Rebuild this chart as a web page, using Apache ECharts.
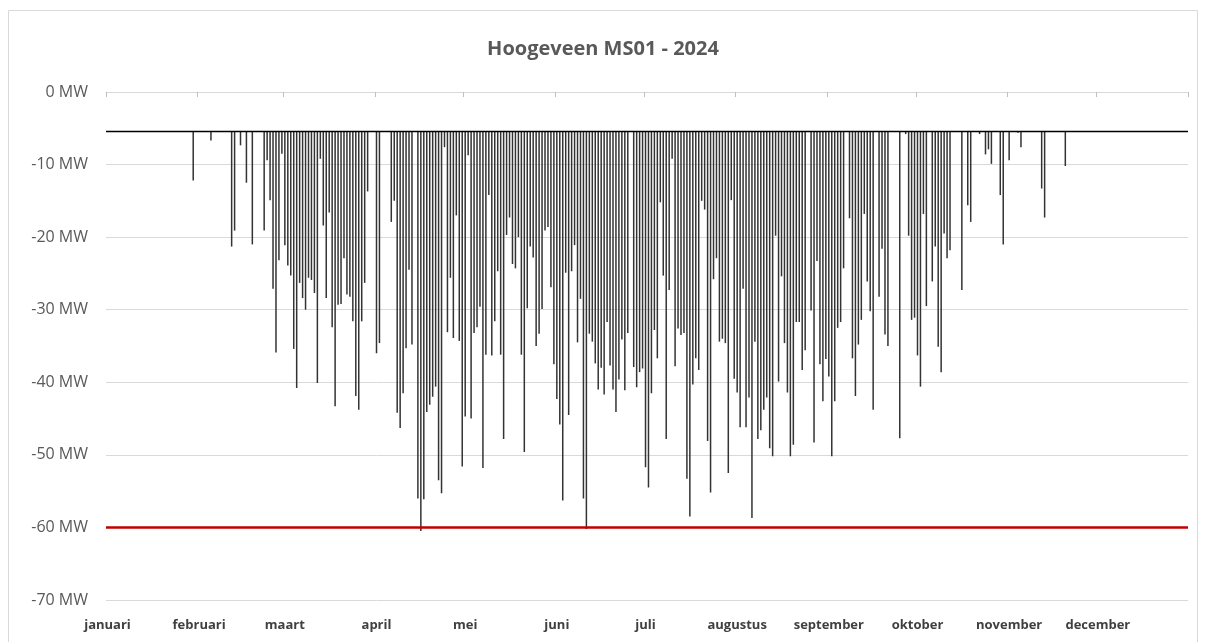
<!DOCTYPE html>
<html>
<head>
<meta charset="utf-8">
<script src="https://cdn.jsdelivr.net/npm/echarts@6/dist/echarts.min.js"></script>
<style>
html,body{margin:0;padding:0;background:#fff;}
#c{width:1206px;height:642px;}
</style>
</head>
<body>
<div id="c"></div>
<script>
// Daily minimum power per month (MW), null = no value below baseline
const monthNames = ['januari','februari','maart','april','mei','juni','juli','augustus','september','oktober','november','december'];
const jan = [null,null,null,null,null,null,null,null,null,null,null,null,null,null,null,null,null,null,null,null,null,null,null,null,null,null,null,null,null,-12.2,null];
const feb = [null,null,null,null,-6.7,null,null,null,null,null,null,-21.3,-19.1,null,-7.35,null,-12.5,null,-21.0,null,null,null,-19.1,-9.4,-14.9,-27.1,-35.9,-23.2,-8.5];
const mar = [-21.1,-23.9,-25.3,-35.4,-40.8,-26.3,-28.4,-30.0,-25.6,-25.9,-27.7,-40.1,-9.2,-18.4,-28.4,-16.6,-32.4,-43.3,-29.3,-29.2,-22.9,-27.9,-28.2,-31.6,-41.9,-43.8,-31.6,-26.3,-13.7,null,null];
const apr = [-36.0,-34.6,null,null,null,-17.9,-15.0,-44.2,-46.3,-41.5,-35.3,-24.5,-34.8,null,-56.0,-60.5,-56.1,-44.1,-43.1,-42.0,-40.6,-53.5,-55.3,-7.6,-33.1,-25.6,-33.9,-17.0,-34.3,-51.6];
const mei = [-44.7,-8.7,-45.0,-33.2,-32.4,-29.6,-51.8,-36.2,-14.2,-36.3,-31.6,-24.7,-36.2,-47.8,-19.7,-17.3,-23.7,-24.3,-20.0,-36.2,-49.6,-29.8,-21.3,-22.8,-35.0,-33.3,-29.9,-19.1,-18.6,-26.9,-37.5];
const jun = [-42.3,-45.8,-56.3,-24.9,-44.5,-24.7,-21.1,-34.5,-28.5,-56.0,-60.2,-33.3,-34.4,-37.4,-41.0,-38.0,-41.7,-31.7,-37.7,-41.0,-44.1,-39.6,-34.1,-41.1,-33.2,null,-37.9,-40.7,-38.6,-38.1];
const jul = [-51.7,-54.5,-41.5,-32.8,-36.7,-15.2,-25.3,-47.8,-27.3,-9.2,-37.8,-32.6,-33.5,-33.2,-53.3,-58.5,-40.3,-36.7,-38.3,-15.0,-16.2,-48.1,-55.2,-25.8,-22.9,-34.4,-34.0,-34.6,-52.5,-14.9,-39.5];
const aug = [-41.4,-46.2,-27.1,-46.2,-42.1,-58.7,-34.4,-47.8,-46.6,-43.8,-42.1,-49.1,-50.2,-19.8,-39.9,-25.4,-34.6,-41.4,-50.2,-48.6,-31.7,-31.7,-38.3,-35.6,null,-30.1,-48.3,-23.3,-37.5,-42.6,-36.8];
const sep = [-39.2,-50.2,-42.6,-32.5,-31.7,-24.3,null,-17.4,-36.7,-41.9,-34.8,-31.4,-16.8,-26.1,-30.2,-43.8,null,-28.2,-21.6,-33.4,-35.0,null,null,null,-47.7,null,-5.8,-19.8,-31.4,-31.1];
const okt = [-36.3,-40.6,-16.8,-29.5,null,-26.1,-21.3,-35.1,-38.6,-19.5,-22.9,-21.8,null,null,null,-27.3,null,-15.6,-17.9,null,null,-5.8,null,-8.6,-7.9,-9.9,null,null,-14.2,-21.0,null];
const nov = [-9.4,null,null,-5.6,-7.6,null,null,null,null,null,null,-13.3,-17.3,null,null,null,null,null,null,-10.2,null,null,null,null,null,null,null,null,null,null];
const dec = [null,null,null,null,null,null,null,null,null,null,null,null,null,null,null,null,null,null,null,null,null,null,null,null,null,null,null,null,null,null,null];
const yTicks = [0,-10,-20,-30,-40,-50,-60,-70];
const BASELINE = -5.4;   // MW, black reference line
const LIMIT = -60;       // MW, red limit line

const months = [jan,feb,mar,apr,mei,jun,jul,aug,sep,okt,nov,dec];
const days = [], values = [], monthStart = new Set();
months.forEach((arr, m) => {
  arr.forEach((v, i) => {
    if (i === 0) monthStart.add(days.length);
    days.push(monthNames[m] + ' ' + (i + 1));
    values.push(v);
  });
});
const baseData = values.map(v => v == null ? null : BASELINE);
const deltaData = values.map(v => v == null ? null : +(v - BASELINE).toFixed(2));

const chart = echarts.init(document.getElementById('c'), null, {renderer: 'canvas'});
chart.setOption({
  animation: false,
  backgroundColor: '#fff',
  title: {
    text: 'Hoogeveen MS01 - 2024',
    left: 'center', top: 34,
    textStyle: {fontFamily: 'Open Sans', fontSize: 20, fontWeight: 'bold', color: '#595959'}
  },
  graphic: [{
    type: 'rect', silent: true,
    shape: {x: 8.5, y: 10.5, width: 1189, height: 640},
    style: {fill: 'none', stroke: '#d9d9d9', lineWidth: 1}
  }],
  grid: {left: 106, right: 18, top: 92, bottom: 42, containLabel: false},
  xAxis: [{
    type: 'category', data: days, position: 'top', boundaryGap: true,
    axisLine: {show: true, lineStyle: {color: '#d9d9d9'}},
    axisTick: {show: true, inside: true, length: 5, interval: (i) => monthStart.has(i), lineStyle: {color: '#bfbfbf'}},
    axisLabel: {show: false}
  }, {
    type: 'category', data: days, position: 'bottom', boundaryGap: true,
    axisLine: {show: false}, axisTick: {show: false},
    axisLabel: {
      interval: (i) => monthStart.has(i),
      formatter: (v) => v.split(' ')[0],
      margin: 19,
      fontFamily: 'Open Sans', fontSize: 13, fontWeight: 'bold', color: '#404040'
    }
  }],
  yAxis: {
    type: 'value', min: yTicks[yTicks.length - 1], max: yTicks[0], interval: 10,
    axisLine: {show: false}, axisTick: {show: false},
    splitLine: {lineStyle: {color: '#d9d9d9', width: 1}},
    axisLabel: {formatter: (v) => v + ' MW', margin: 18, fontFamily: 'Open Sans', fontSize: 16, color: '#595959'}
  },
  series: [{
    type: 'bar', stack: 'd', xAxisIndex: 0, data: baseData, barWidth: 1.5,
    itemStyle: {color: 'rgba(0,0,0,0)'}, silent: true
  }, {
    type: 'bar', stack: 'd', xAxisIndex: 0, data: deltaData, barWidth: 1.5,
    itemStyle: {color: '#333333'},
    markLine: {
      silent: true, symbol: 'none', label: {show: false},
      data: [
        {yAxis: BASELINE, lineStyle: {color: '#000', width: 1.3, type: 'solid'}},
        {yAxis: LIMIT, lineStyle: {color: '#c00000', width: 2.5, type: 'solid'}}
      ]
    }
  }]
});
</script>
</body>
</html>
